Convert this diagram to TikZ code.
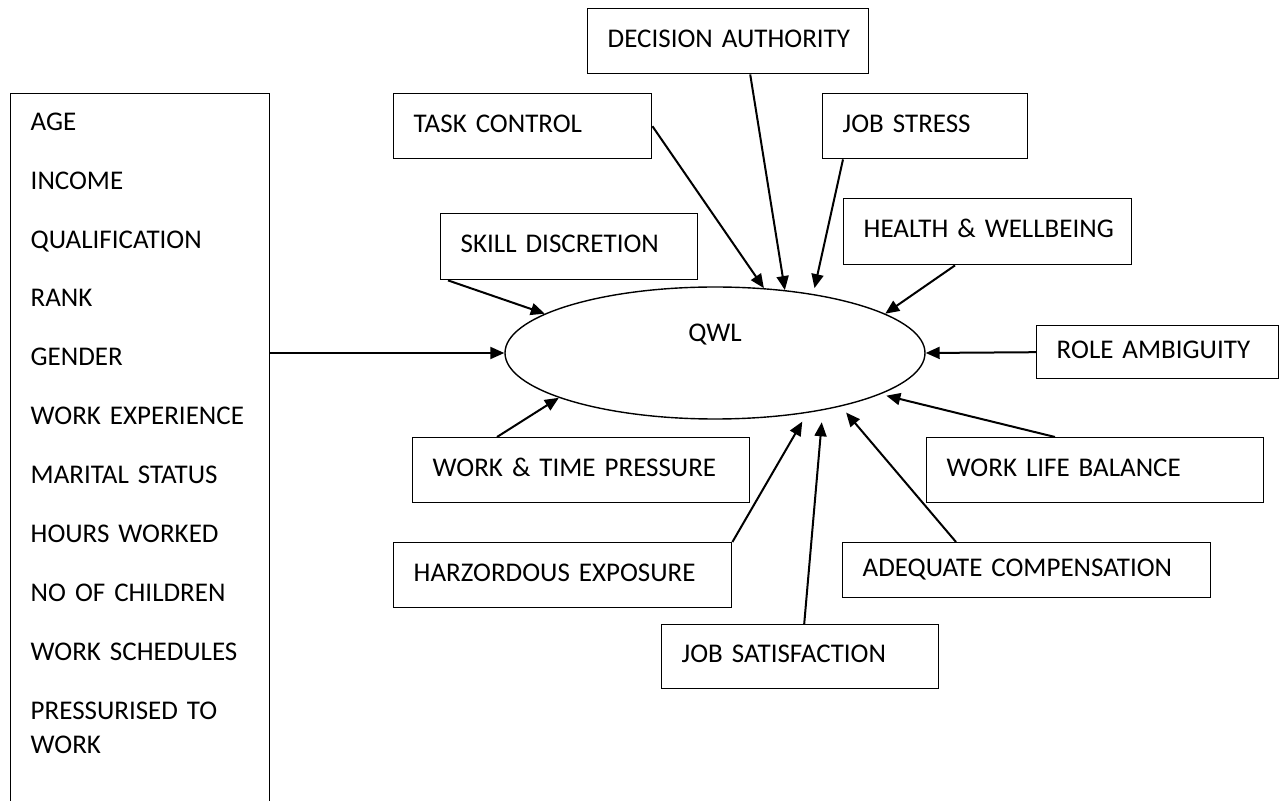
\documentclass[tikz,border=0pt]{standalone}
\usepackage{fontspec}
\setmainfont{Carlito}
\usepackage{tikz}
\usetikzlibrary{shapes.geometric,arrows.meta}
\tikzset{
	Factor/.style={draw, line width=0.7pt, anchor=north west, inner xsep=10pt, inner ysep=0pt, align=left, text height=9pt, text depth=3pt, font=\fontsize{13.5}{16.5}\selectfont},
	Profile/.style={draw, line width=0.7pt, anchor=north west, inner xsep=10pt, inner ysep=9.5pt, align=left, font=\fontsize{13.5}{17}\selectfont},
	Link/.style={-{Triangle[length=7pt,width=6pt]}, line width=1pt}
}

\begin{document}
\begin{tikzpicture}[x=0.5pt, y=-0.5pt]
	\useasboundingbox (0,0) rectangle (1280,801);
	\node[Profile, text width=109.5pt] (Demo) at (10,93) {AGE\\[12.45pt]INCOME\\[12.45pt]QUALIFICATION\\[12.45pt]RANK\\[12.45pt]GENDER\\[12.45pt]WORK EXPERIENCE\\[12.45pt]MARITAL STATUS\\[12.45pt]HOURS WORKED\\[12.45pt]NO OF CHILDREN\\[12.45pt]WORK SCHEDULES\\[12.45pt]PRESSURISED TO\\WORK\\[40pt]~};
	\node[draw, ellipse, line width=0.7pt, minimum width=210pt, minimum height=66pt, inner sep=0pt, label={[yshift=9pt, font=\fontsize{13.5}{16.5}\selectfont]center:QWL}] (QWL) at (715,353) {};
	\node[Factor, text width=120.5pt, minimum height=32.5pt] (Decision) at (587,8) {\mbox{DECISION AUTHORITY}};
	\node[Factor, text width=109pt, minimum height=32.5pt] (Task) at (393,93) {TASK CONTROL};
	\node[Factor, text width=82.5pt, minimum height=32.5pt] (Stress) at (822,93) {JOB STRESS};
	\node[Factor, text width=124pt, minimum height=33pt] (Health) at (843,198) {\mbox{HEALTH \& WELLBEING}};
	\node[Factor, text width=108.5pt, minimum height=33pt] (Skill) at (440,213) {SKILL DISCRETION};
	\node[Factor, text width=101pt, minimum height=26.5pt] (Role) at (1036,325) {ROLE AMBIGUITY};
	\node[Factor, text width=148.5pt, minimum height=32.5pt] (Pressure) at (412,437) {WORK \& TIME PRESSURE};
	\node[Factor, text width=148.5pt, minimum height=32.5pt] (Balance) at (926,437) {WORK LIFE BALANCE};
	\node[Factor, text width=149pt, minimum height=32.5pt] (Hazard) at (393,542) {HARZORDOUS EXPOSURE};
	\node[Factor, text width=164pt, minimum height=27.5pt] (Pay) at (842,542) {ADEQUATE COMPENSATION};
	\node[Factor, text width=118.5pt, minimum height=32pt] (Satisfaction) at (661,624) {JOB SATISFACTION};
	\draw[Link] (Demo.east |- QWL) -- (QWL);
	\draw[Link] ([xshift=4pt]Skill.south west) -- (QWL.167);
	\draw[Link] (Task.east) -- (QWL.53);
	\draw[Link] ([xshift=11pt]Decision.south) -- (QWL.42);
	\draw[Link, shorten >=3pt] ([xshift=10.5pt]Stress.south west) -- (QWL.31);
	\draw[Link] ([xshift=56pt]Health.south west) -- (QWL.13);
	\draw[Link] (Role.west) -- (QWL.east);
	\draw[Link, shorten >=3pt] ([xshift=64.5pt]Balance.north west) -- (QWL.-14);
	\draw[Link, shorten >=4pt] ([xshift=57pt]Pay.north west) -- (QWL.-23);
	\draw[Link, shorten >=6pt] ([xshift=2pt]Satisfaction.north) -- (QWL.-28);
	\draw[Link, shorten >=5pt] (Hazard.north east) -- (QWL.-33);
	\draw[Link] ([xshift=42.5pt]Pressure.north west) -- (QWL.196);
\end{tikzpicture}
\end{document}
